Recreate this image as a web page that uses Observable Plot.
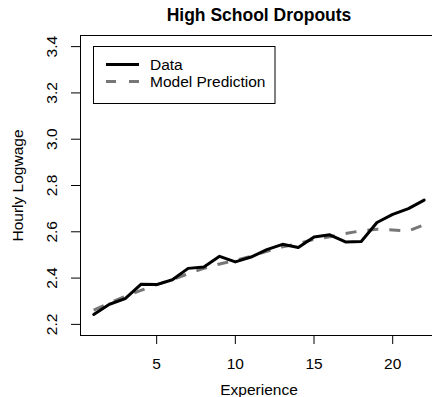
<!DOCTYPE html>
<html>
<head>
<meta charset="utf-8">
<script src="https://cdn.jsdelivr.net/npm/d3@7"></script>
<script src="https://cdn.jsdelivr.net/npm/@observablehq/plot@0.6"></script>
<style>
  html, body { margin: 0; padding: 0; background: #fff; }
  svg { display: block; }
</style>
</head>
<body>
<div id="chart"></div>
<script>
const experience = [1,2,3,4,5,6,7,8,9,10,11,12,13,14,15,16,17,18,19,20,21,22];
const dataValues = [2.243,2.287,2.311,2.373,2.372,2.393,2.442,2.448,2.494,2.470,2.491,2.523,2.546,2.532,2.578,2.587,2.556,2.558,2.640,2.675,2.700,2.737];
const modelValues = [2.262,2.292,2.321,2.347,2.372,2.393,2.419,2.442,2.461,2.477,2.494,2.516,2.535,2.549,2.568,2.578,2.593,2.604,2.611,2.608,2.604,2.630];
const xTicks = [5,10,15,20];
const yTicks = [2.2,2.4,2.6,2.8,3.0,3.2,3.4];
const titleText = "High School Dropouts";
const xLabel = "Experience";
const yLabel = "Hourly Logwage";
const legendLabels = ["Data", "Model Prediction"];

const dataRows = experience.map((e, i) => ({x: e, y: dataValues[i]}));
const modelRows = experience.map((e, i) => ({x: e, y: modelValues[i]}));
const xDomain = [0.16, 22.53];
const yDomain = [2.152, 3.448];
const font = "Liberation Sans, Arial, Helvetica, sans-serif";
const fs = 15.5;

const plot = Plot.plot({
  width: 432,
  height: 397,
  marginLeft: 80,
  marginRight: 0,
  marginTop: 35,
  marginBottom: 62,
  style: {fontFamily: font, fontSize: fs + "px", color: "#000", background: "#fff", overflow: "visible"},
  x: {domain: xDomain, label: null},
  y: {domain: yDomain, label: null},
  marks: [
    Plot.ruleY([yDomain[0], yDomain[1]], {stroke: "#000", strokeWidth: 1}),
    Plot.ruleX([xDomain[0]], {stroke: "#000", strokeWidth: 1}),
    Plot.axisX({ticks: xTicks, tickSize: 9, tickPadding: 13, tickFormat: d => String(d), fontSize: fs, stroke: "#000", label: null}),
    Plot.axisY({ticks: yTicks, tickSize: 9, tickFormat: () => "", stroke: "#000", label: null}),
    Plot.text(yTicks, {y: d => d, frameAnchor: "left", rotate: -90, dx: -28, text: d => d.toFixed(1), fontSize: fs, fill: "#000", textAnchor: "middle", lineAnchor: "middle"}),
    Plot.text([yLabel], {frameAnchor: "left", rotate: -90, dx: -62, text: d => d, fontSize: fs, fill: "#000", textAnchor: "middle", lineAnchor: "middle"}),
    Plot.text([xLabel], {frameAnchor: "bottom", dy: 55, dx: 2.5, text: d => d, fontSize: fs, fill: "#000", textAnchor: "middle", lineAnchor: "middle"}),
    Plot.text([titleText], {frameAnchor: "top", dy: -20, dx: 2.5, text: d => d, fontSize: 17.5, fontWeight: "bold", fill: "#000", textAnchor: "middle", lineAnchor: "middle"}),
    Plot.line(modelRows, {x: "x", y: "y", stroke: "#777777", strokeWidth: 3, strokeDasharray: "11,11", strokeLinecap: "butt"}),
    Plot.line(dataRows, {x: "x", y: "y", stroke: "#000", strokeWidth: 3, strokeLinejoin: "round"})
  ]
});

document.getElementById("chart").appendChild(plot);

// Legend box (R-style, top-left inside plot)
const svg = d3.select(plot);
const lg = svg.append("g").attr("font-family", font).attr("font-size", fs).attr("text-anchor", "start");
lg.append("rect").attr("x", 93.5).attr("y", 46.5).attr("width", 181.5).attr("height", 57)
  .attr("fill", "#fff").attr("stroke", "#000").attr("stroke-width", 1);
const items = [
  {label: legendLabels[0], stroke: "#000", dash: null, y: 64.5},
  {label: legendLabels[1], stroke: "#777777", dash: "10,13", y: 81.5}
];
items.forEach(it => {
  const ln = lg.append("line").attr("x1", 106).attr("x2", 139).attr("y1", it.y).attr("y2", it.y)
    .attr("stroke", it.stroke).attr("stroke-width", 3);
  if (it.dash) ln.attr("stroke-dasharray", it.dash);
  lg.append("text").attr("x", 150).attr("y", it.y).attr("dy", "0.35em").attr("text-anchor", "start").attr("fill", "#000").text(it.label);
});
</script>
</body>
</html>
